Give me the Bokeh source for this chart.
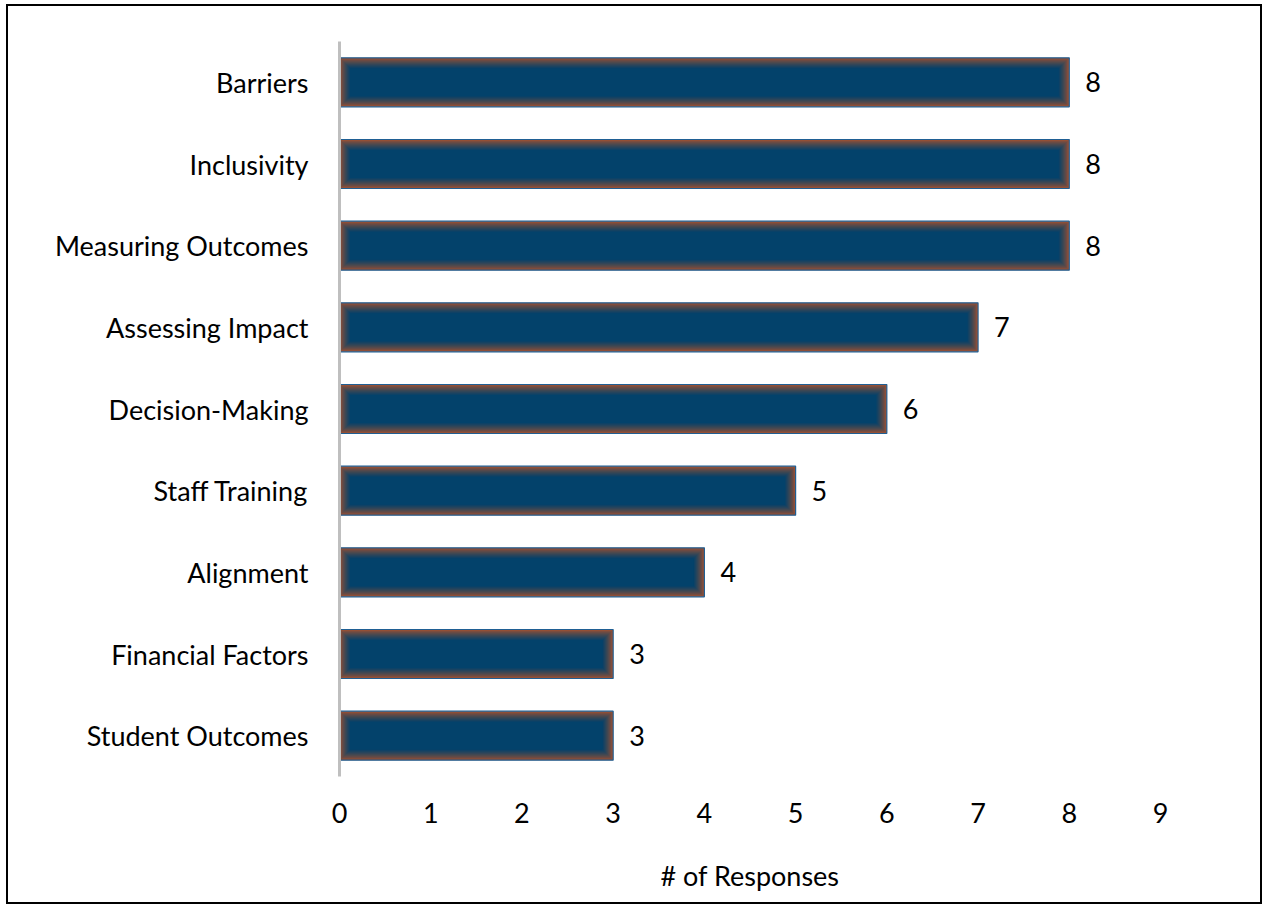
from bokeh.plotting import figure
from bokeh.models import ColumnDataSource, Range1d, FactorRange, FixedTicker, LabelSet
from bokeh.core.properties import value
from bokeh.embed import file_html
from bokeh.resources import INLINE

# ---- data ----
categories = ["Student Outcomes", "Financial Factors", "Alignment", "Staff Training",
              "Decision-Making", "Assessing Impact", "Measuring Outcomes", "Inclusivity", "Barriers"]
values = [3, 3, 4, 5, 6, 7, 8, 8, 8]
x_ticks = [0, 1, 2, 3, 4, 5, 6, 7, 8, 9]
x_title = "# of Responses"

FONT = "Lato"
FS = "27px"

W, H = 1256, 900
BL, BT = 331, 35
frame_w, frame_h = 821, 735
BR = W - BL - frame_w
BB = H - BT - frame_h
px_x = 9 / frame_w                      # data units per pixel (x)
px_y = len(categories) / frame_h        # category units per pixel (y)
BAR_H = 0.6

p = figure(width=W, height=H, output_backend="svg", toolbar_location=None,
           x_range=Range1d(0, 9), y_range=FactorRange(*categories, range_padding=0),
           min_border_left=BL, min_border_right=BR, min_border_top=BT, min_border_bottom=BB)
p.styles = {"border": "2px solid #000000", "margin-left": "6px", "margin-top": "4px"}
p.outline_line_color = None
p.xgrid.grid_line_color = None
p.ygrid.grid_line_color = None
p.background_fill_color = "white"
p.border_fill_color = "white"

# base bar (glow colour + outline)
src = ColumnDataSource(dict(cat=categories, val=values, left=[0] * len(values)))
p.hbar(y="cat", left="left", right="val", height=BAR_H, source=src,
       fill_color="#B8542A", line_color="#1F5F94", line_width=1.2)

# inner soft-edge layers fading to dark blue
N = 10
prev = 0.0
for k in range(0, N + 1):
    cov = 0.2 + 0.8 * (k / N) ** 0.8
    alpha = (cov - prev) / (1 - prev)
    prev = cov
    lefts = [(k + 0.5) * px_x for _ in values]
    rights = [v - (k + 0.5) * px_x for v in values]
    h = BAR_H - 2 * (k + 0.5) * px_y
    p.hbar(y=categories, left=lefts, right=rights, height=h,
           fill_color="#03426B", fill_alpha=alpha, line_color=None)

# value labels
labels = LabelSet(x="val", y="cat", text="val", source=src, x_offset=16,
                  text_baseline="middle", text_align="left",
                  text_font=value(FONT), text_font_size=value(FS), text_color="#000000")
p.add_layout(labels)

# y axis
p.yaxis.axis_line_color = "#BFBFBF"
p.yaxis.axis_line_width = 3
p.yaxis.major_tick_line_color = None
p.yaxis.minor_tick_line_color = None
p.yaxis.major_label_text_font = FONT
p.yaxis.major_label_text_font_size = FS
p.yaxis.major_label_text_color = "#000000"
p.yaxis.major_label_standoff = 25

# x axis
p.xaxis.ticker = FixedTicker(ticks=x_ticks)
p.xaxis.axis_line_color = None
p.xaxis.major_tick_line_color = None
p.xaxis.minor_tick_line_color = None
p.xaxis.major_label_text_font = FONT
p.xaxis.major_label_text_font_size = FS
p.xaxis.major_label_text_color = "#000000"
p.xaxis.major_label_standoff = 20
p.xaxis.axis_label = x_title
p.xaxis.axis_label_text_font = FONT
p.xaxis.axis_label_text_font_size = FS
p.xaxis.axis_label_text_font_style = "normal"
p.xaxis.axis_label_text_color = "#000000"
p.xaxis.axis_label_standoff = 33

open("out.html", "w").write(file_html(p, INLINE))
